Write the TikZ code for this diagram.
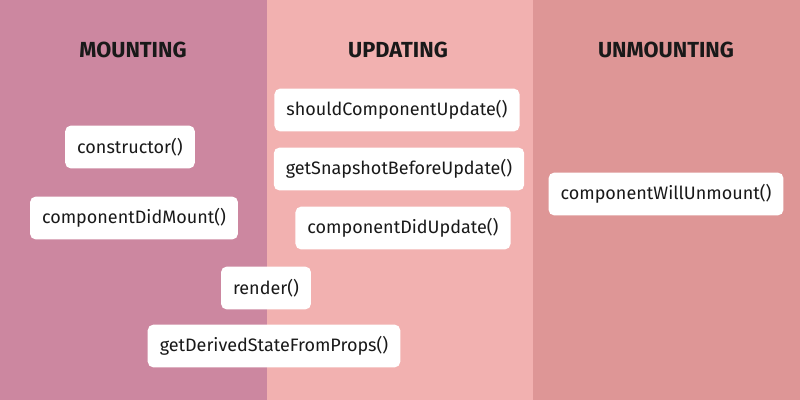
\documentclass[tikz,border=0pt]{standalone}
\usepackage{fontspec}
\setmainfont{Fira Sans}
\definecolor{mountbg}{HTML}{CC87A0}
\definecolor{updatebg}{HTML}{F2B1B0}
\definecolor{unmountbg}{HTML}{DE9696}
\tikzset{
  method/.style={fill=white, rounded corners=4pt, minimum height=1.07cm, inner xsep=0.3cm, font=\fontsize{12.8}{14}\selectfont, text=black!90},
  phase/.style={font=\fontsize{15.5}{18}\selectfont\bfseries, text=black!90}
}
\begin{document}
\begin{tikzpicture}[x=0.025cm, y=-0.025cm]

% Columns
\fill[mountbg] (0, 0) rectangle (267, 400);
\fill[updatebg] (267, 0) rectangle (533, 400);
\fill[unmountbg] (533, 0) rectangle (800, 400);

% Phases
\node[phase] (mounting) at (133, 50) {MOUNTING};
\node[phase] (updating) at (398, 50) {UPDATING};
\node[phase] (unmounting) at (666, 50) {UNMOUNTING};

% Methods
\node[method] (ctor) at (130, 147) {constructor()};
\node[method] (didmount) at (134, 218) {componentDidMount()};
\node[method] (render) at (266, 288) {render()};
\node[method] (derived) at (274, 346) {getDerivedStateFromProps()};
\node[method] (shouldupd) at (397, 110) {shouldComponentUpdate()};
\node[method] (snapshot) at (399, 169) {getSnapshotBeforeUpdate()};
\node[method] (didupd) at (403, 228) {componentDidUpdate()};
\node[method] (willunmount) at (666, 194) {componentWillUnmount()};

\end{tikzpicture}
\end{document}
